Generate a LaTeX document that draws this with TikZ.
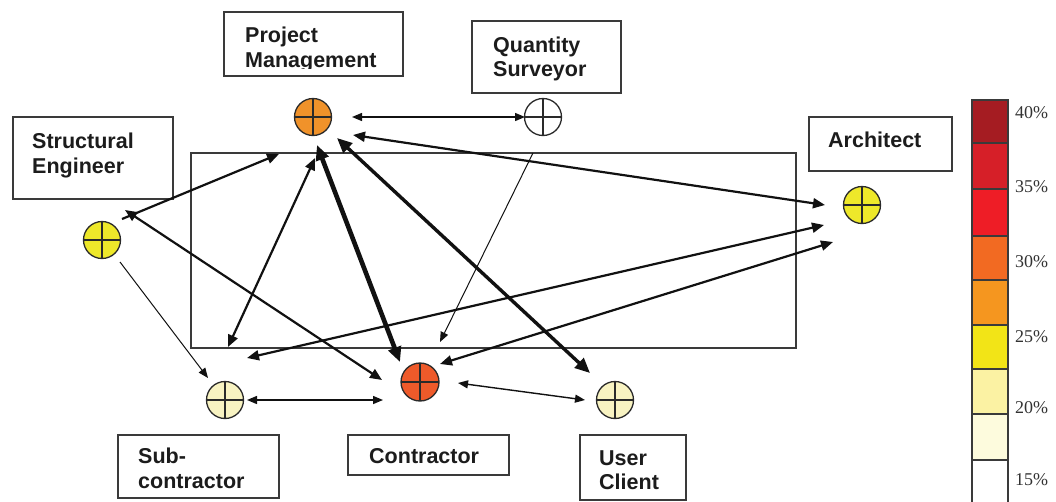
\documentclass[tikz,border=0pt]{standalone}
\usepackage{fontspec}
\setmainfont{Liberation Sans}
\newfontfamily\legfont{Liberation Serif}
\usetikzlibrary{arrows.meta}
\definecolor{boxc}{HTML}{3A3A3A}
\definecolor{txtc}{HTML}{1C1C1C}
\definecolor{linec}{HTML}{111111}
\definecolor{circc}{HTML}{2A2A2A}
\definecolor{legc}{HTML}{333333}
\definecolor{cPM}{HTML}{F0922A}
\definecolor{cYel}{HTML}{EEE82A}
\definecolor{cPale}{HTML}{F8F3C2}
\definecolor{cCon}{HTML}{EE5A2A}
\definecolor{lA}{HTML}{A51C22}
\definecolor{lB}{HTML}{D61F28}
\definecolor{lC}{HTML}{EE1D26}
\definecolor{lD}{HTML}{F26A22}
\definecolor{lE}{HTML}{F5961F}
\definecolor{lF}{HTML}{F2E417}
\definecolor{lG}{HTML}{FBF2A3}
\definecolor{lH}{HTML}{FDFBDD}
\tikzset{
  tS/.tip={Triangle[length=10pt,width=8pt]},
  tM/.tip={Triangle[length=12pt,width=10pt]},
  tL/.tip={Triangle[length=15pt,width=13pt]},
}
\begin{document}
\begin{tikzpicture}[x=1pt,y=-1pt,
  box/.style={draw=boxc, line width=1.8pt, inner sep=0pt},
  lbl/.style={anchor=base west, inner sep=0pt, font=\fontsize{21.5}{25}\selectfont\bfseries, text=txtc},
  leg/.style={anchor=west, inner sep=0pt, font=\legfont\fontsize{18}{20}\selectfont, text=legc},
  party/.style={circle, draw=circc, line width=1.3pt, minimum size=37pt, inner sep=0pt,
    path picture={\draw[circc, line width=1.1pt]
      (path picture bounding box.north) -- (path picture bounding box.south)
      (path picture bounding box.west) -- (path picture bounding box.east);}},
  wa/.style={draw=linec, line width=1pt},
  wb/.style={draw=linec, line width=1.4pt},
  wc/.style={draw=linec, line width=2.2pt},
  wd/.style={draw=linec, line width=3.4pt},
  we/.style={draw=linec, line width=4.6pt},
]
\useasboundingbox (0,0) rectangle (1056,501);
\fill[white] (0,0) rectangle (1056,501);

% central frame
\draw[boxc, line width=1.6pt] (191,153) rectangle (796,348);

% label boxes
\node[box, minimum width=179pt, minimum height=64pt] (pmbox) at (313.5,44) {};
\node[box, minimum width=149pt, minimum height=72pt] (qsbox) at (546.5,57) {};
\node[box, minimum width=160pt, minimum height=82pt] (sebox) at (93,158) {};
\node[box, minimum width=143pt, minimum height=54pt] (arbox) at (880.5,144) {};
\node[box, minimum width=161pt, minimum height=63pt] (subox) at (198.5,466.5) {};
\node[box, minimum width=161pt, minimum height=40pt] (cobox) at (428.5,455) {};
\node[box, minimum width=106pt, minimum height=65pt] (usbox) at (633,467.5) {};

% label texts
\node[lbl] (pmt1) at (245,42) {Project};
\begin{scope}
  \clip (226,50) rectangle (401,68.5);
  \node[lbl] (pmt2) at (245,67) {Management};
\end{scope}
\node[lbl] (qst1) at (493,52) {Quantity};
\node[lbl] (qst2) at (493,76) {Surveyor};
\node[lbl] (set1) at (32,148) {Structural};
\node[lbl] (set2) at (32,173) {Engineer};
\node[lbl] (art) at (828,147) {Architect};
\node[lbl] (sut1) at (138,463) {Sub-};
\begin{scope}
  \clip (120,470) rectangle (277,489);
  \node[lbl] (sut2) at (138,488) {contractor};
\end{scope}
\node[lbl] (cot) at (369,463) {Contractor};
\node[lbl] (ust1) at (599,465) {User};
\begin{scope}
  \clip (582,470) rectangle (684,490);
  \node[lbl] (ust2) at (599,489) {Client};
\end{scope}

% parties
\node[party, fill=cPM] (pm) at (313,117) {};
\node[party, fill=white] (qs) at (543,117) {};
\node[party, fill=cYel] (se) at (102,240) {};
\node[party, fill=cYel] (ar) at (862,205) {};
\node[party, fill=cPale] (su) at (225,400) {};
\node[party, fill=cCon, minimum size=38pt] (co) at (420,382) {};
\node[party, fill=cPale] (us) at (615,400) {};

% connector end points
\coordinate (pmQ) at (352,117);
\coordinate (pmA) at (353,135);
\coordinate (pmSE) at (279,154);
\coordinate (pmS) at (315,158);
\coordinate (pmC) at (317,145);
\coordinate (pmU) at (337,138);
\coordinate (qsP) at (525,117);
\coordinate (qsC) at (533,153);
\coordinate (seP) at (122,219);
\coordinate (seC) at (125,210);
\coordinate (seS) at (120,262);
\coordinate (arP) at (825,205);
\coordinate (arS) at (824,225);
\coordinate (arC) at (833,242);
\coordinate (suSE) at (208,378);
\coordinate (suP) at (228,347);
\coordinate (suA) at (247,358);
\coordinate (suC) at (247,400);
\coordinate (coSE) at (382,380);
\coordinate (coP) at (400,362);
\coordinate (coQ) at (440,342);
\coordinate (coA) at (440,364);
\coordinate (coS) at (383,400);
\coordinate (coU) at (458,383);
\coordinate (usP) at (590,373);
\coordinate (usC) at (585,400);

% connectors
\draw[wb, tS-tS] (pmQ) -- (qsP);
\draw[wc, tM-tM] (pmA) -- (arP);
\draw[wc, -tM] (seP) -- (pmSE);
\draw[wc, tM-tM] (seC) -- (coSE);
\draw[wa, -tS] (seS) -- (suSE);
\draw[wc, tM-tM] (pmS) -- (suP);
\draw[we, tL-tL] (pmC) -- (coP);
\draw[wd, tL-tL] (pmU) -- (usP);
\draw[wa, -tS] (qsC) -- (coQ);
\draw[wc, tM-tM] (arS) -- (suA);
\draw[wc, tM-tM] (arC) -- (coA);
\draw[wb, tS-tS] (suC) -- (coS);
\draw[wb, tS-tS] (coU) -- (usC);

% legend
\fill[lA] (972,100) rectangle (1008,143);
\fill[lB] (972,143) rectangle (1008,189);
\fill[lC] (972,189) rectangle (1008,236);
\fill[lD] (972,236) rectangle (1008,280);
\fill[lE] (972,280) rectangle (1008,325);
\fill[lF] (972,325) rectangle (1008,369);
\fill[lG] (972,369) rectangle (1008,414);
\fill[lH] (972,414) rectangle (1008,460);
\draw[boxc, line width=1.4pt] (972,143) -- (1008,143) (972,189) -- (1008,189)
  (972,236) -- (1008,236) (972,280) -- (1008,280) (972,325) -- (1008,325)
  (972,369) -- (1008,369) (972,414) -- (1008,414) (972,460) -- (1008,460);
\draw[boxc, line width=1.4pt] (972,503) -- (972,100) -- (1008,100) -- (1008,503);
\node[leg] (l40) at (1015,113) {40\%};
\node[leg] (l35) at (1015,187) {35\%};
\node[leg] (l30) at (1015,262) {30\%};
\node[leg] (l25) at (1015,337) {25\%};
\node[leg] (l20) at (1015,408) {20\%};
\node[leg] (l15) at (1015,480) {15\%};
\end{tikzpicture}
\end{document}
